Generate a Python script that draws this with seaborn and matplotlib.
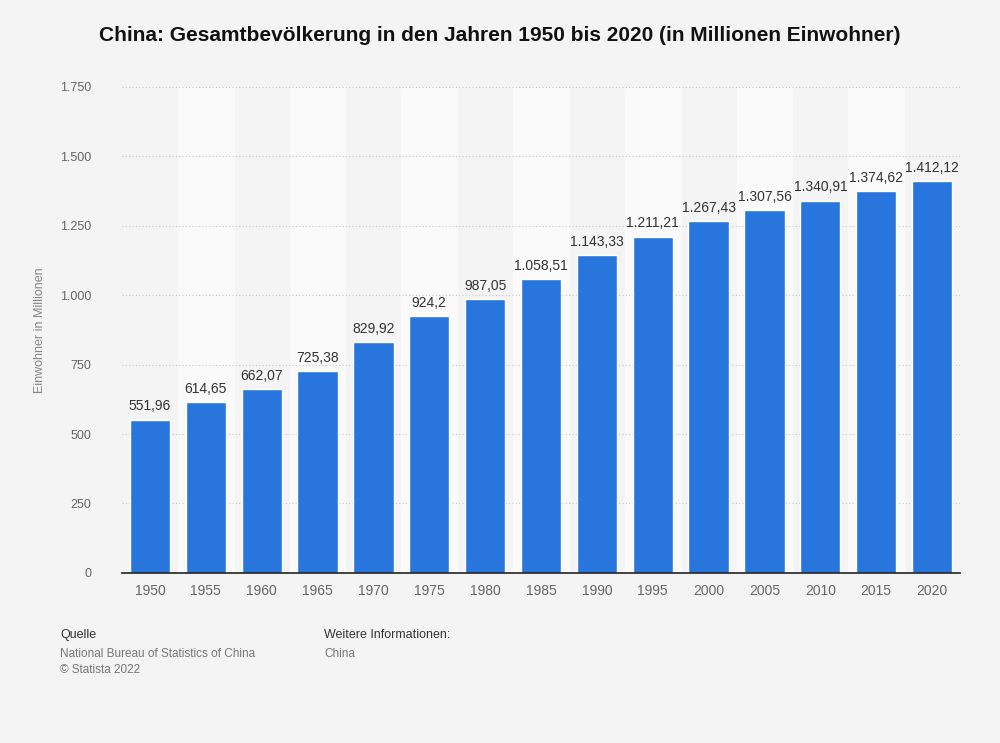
import pandas as pd
import matplotlib
matplotlib.use('Agg')
import matplotlib.pyplot as plt
import seaborn as sns

years = ['1950', '1955', '1960', '1965', '1970', '1975', '1980', '1985',
         '1990', '1995', '2000', '2005', '2010', '2015', '2020']
population = [551.96, 614.65, 662.07, 725.38, 829.92, 924.2, 987.05, 1058.51,
              1143.33, 1211.21, 1267.43, 1307.56, 1340.91, 1374.62, 1412.12]
value_labels = ['551,96', '614,65', '662,07', '725,38', '829,92', '924,2', '987,05',
                '1.058,51', '1.143,33', '1.211,21', '1.267,43', '1.307,56',
                '1.340,91', '1.374,62', '1.412,12']
y_ticks = [0, 250, 500, 750, 1000, 1250, 1500, 1750]
y_tick_labels = ['0', '250', '500', '750', '1.000', '1.250', '1.500', '1.750']

df = pd.DataFrame({'year': years, 'pop': population})

sns.set_style('white')
plt.rcParams['font.family'] = ['Liberation Sans', 'DejaVu Sans']

fig = plt.figure(figsize=(10, 7.43), dpi=100, facecolor='#f4f4f4')
ax = fig.add_axes([0.122, 0.229, 0.838, 0.654])
ax.set_facecolor('#f4f4f4')

# alternating column bands
for i in range(len(years)):
    if i % 2 == 1:
        ax.axvspan(i - 0.5, i + 0.5, color='#fafafa', zorder=0)

for t in y_ticks[1:]:
    ax.axhline(t, color='#c8c8c8', linestyle=(0, (1, 2)), linewidth=0.8, zorder=1)

sns.barplot(data=df, x='year', y='pop', color='#2876dd', saturation=1,
            width=0.72, ax=ax, zorder=2)

for i, (v, lab) in enumerate(zip(population, value_labels)):
    ax.text(i, v + 22, lab, ha='center', va='bottom', fontsize=10, color='#333333')

ax.set_xlim(-0.5, len(years) - 0.5)
ax.set_ylim(0, 1750)
ax.set_yticks(y_ticks)
ax.set_yticklabels(y_tick_labels, fontsize=9, color='#666666')
ax.tick_params(axis='x', labelsize=10, colors='#666666', length=0, pad=8)
ax.tick_params(axis='y', length=0, pad=22)
ax.set_xlabel('')
ax.set_ylabel('Einwohner in Millionen', fontsize=9, color='#888888', labelpad=10)
for s in ['top', 'right', 'left']:
    ax.spines[s].set_visible(False)
ax.spines['bottom'].set_color('#222222')
ax.spines['bottom'].set_linewidth(1.2)

fig.text(0.5, 0.952, 'China: Gesamtbevölkerung in den Jahren 1950 bis 2020 (in Millionen Einwohner)',
         ha='center', va='center', fontsize=15, fontweight='bold', color='#111111')

fig.text(0.06, 0.145, 'Quelle', fontsize=9, color='#333333', va='center')
fig.text(0.06, 0.120, 'National Bureau of Statistics of China', fontsize=8.5, color='#777777', va='center')
fig.text(0.06, 0.098, '© Statista 2022', fontsize=8.5, color='#777777', va='center')
fig.text(0.324, 0.145, 'Weitere Informationen:', fontsize=9, color='#333333', va='center')
fig.text(0.324, 0.120, 'China', fontsize=8.5, color='#777777', va='center')

fig.savefig('out.png', dpi=100, facecolor=fig.get_facecolor())
